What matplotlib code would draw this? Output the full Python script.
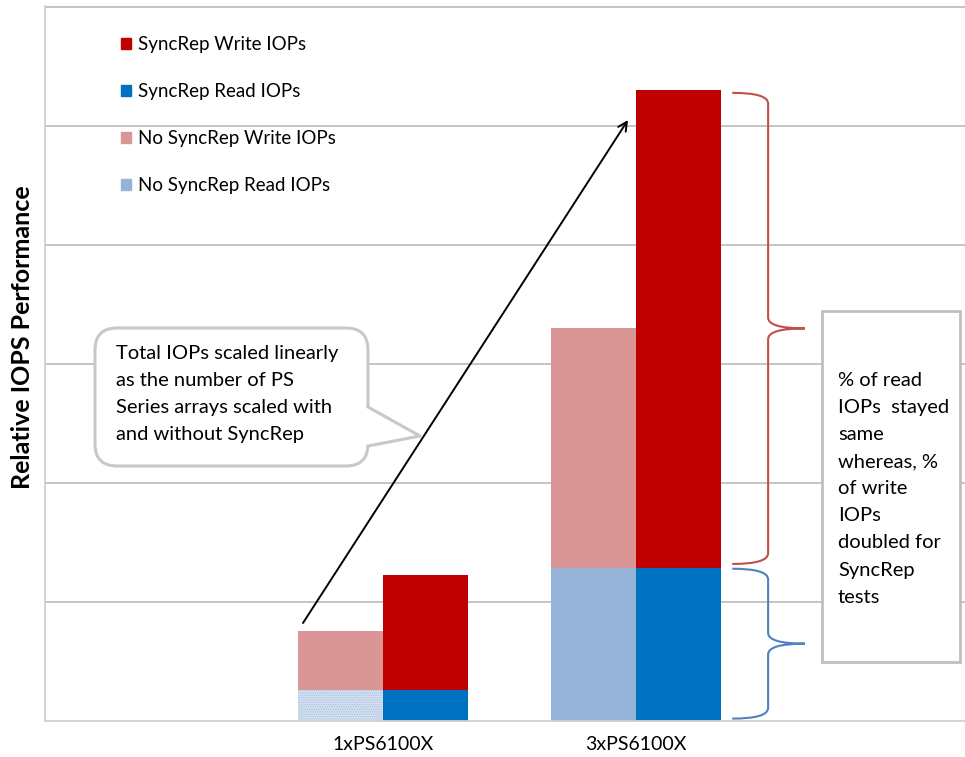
import matplotlib
matplotlib.use("Agg")
import matplotlib.pyplot as plt
from matplotlib.patches import Patch, FancyBboxPatch, Rectangle, Polygon, PathPatch
from matplotlib.path import Path
from matplotlib.transforms import Affine2D, blended_transform_factory

plt.rcParams['font.family'] = ['Lato', 'DejaVu Sans']
plt.rcParams['hatch.linewidth'] = 0.6

W, H = 965, 757

categories = ['1xPS6100X', '3xPS6100X']
nosync_read = [0.26, 1.29]
nosync_write = [0.50, 2.01]
sync_read = [0.26, 1.29]
sync_write = [0.97, 4.01]

c_sync_write = '#C00000'
c_sync_read = '#0070C0'
c_nosync_write = '#D99694'
c_nosync_read = '#95B3D7'

fig = plt.figure(figsize=(W / 100, H / 100), dpi=100)
ax = fig.add_axes([45 / W, 1 - 721 / H, 920 / W, 715 / H])

# image pixel coords (y down) -> display
pix = Affine2D().scale(1, -1).translate(0, H)

x = list(range(len(categories)))
bw = 0.336
x_left = [i - bw / 2 for i in x]
x_right = [i + bw / 2 for i in x]

nr = ax.bar(x_left, nosync_read, bw, color=c_nosync_read, linewidth=0)
ax.bar(x_left, nosync_write, bw, bottom=nosync_read, color=c_nosync_write, linewidth=0)
ax.bar(x_right, sync_read, bw, color=c_sync_read, linewidth=0)
ax.bar(x_right, sync_write, bw, bottom=sync_read, color=c_sync_write, linewidth=0)

# the 1x no-syncrep read block is drawn with a light dotted fill
nr[0].set_facecolor('#d3e0f0')
nr[0].set_hatch('.......')
nr[0].set_edgecolor('#a8c1e0')
nr[0].set_linewidth(0)

ax.set_xlim(-1.336, 2.300)
ax.set_ylim(0, 6.01)
ax.set_yticks([1, 2, 3, 4, 5, 6])
ax.yaxis.grid(True, color='#bfbfbf', linewidth=1.3)
ax.set_axisbelow(True)
ax.tick_params(left=False, labelleft=False, bottom=False)
ax.set_xticks(x)
ax.set_xticklabels(categories, fontsize=14)
ax.tick_params(axis='x', pad=7)
for s in ['top', 'right']:
    ax.spines[s].set_visible(False)
for s in ['left', 'bottom']:
    ax.spines[s].set_color('#d0d0d0')
    ax.spines[s].set_linewidth(1.3)

ax.set_ylabel('Relative IOPS Performance', fontsize=18, fontweight='bold')
ax.yaxis.set_label_coords(-0.012, 0.537)

handles = [Patch(color=c_sync_write), Patch(color=c_sync_read),
           Patch(color=c_nosync_write), Patch(color=c_nosync_read)]
labels = ['SyncRep Write IOPs', 'SyncRep Read IOPs',
          'No SyncRep Write IOPs', 'No SyncRep Read IOPs']
ax.legend(handles, labels, loc='upper left', bbox_to_anchor=(121, 36),
          bbox_transform=pix, frameon=False, fontsize=13.5,
          handlelength=0.55, handleheight=0.55, handletextpad=0.35,
          labelspacing=1.6, borderpad=0, borderaxespad=0)

# arrow from the 1x total to the 3x total
ax.annotate('', xy=(628, 120), xytext=(303, 623), xycoords=pix, textcoords=pix,
            arrowprops=dict(arrowstyle='->', color='black', lw=1.4,
                            mutation_scale=16, shrinkA=0, shrinkB=0),
            zorder=10)

# callout bubble
grey = '#c8c8c8'
bubble = FancyBboxPatch((95, 328), 273, 138, boxstyle='round,pad=0,rounding_size=22',
                        transform=pix, facecolor='white', edgecolor=grey, linewidth=2.2,
                        zorder=5)
fig.add_artist(bubble)
tail = Polygon([(366, 407), (420, 436), (366, 446)], closed=True, transform=pix,
               facecolor='white', edgecolor='none', zorder=6)
fig.add_artist(tail)
fig.add_artist(plt.Line2D([368, 420, 368], [407, 436, 446], transform=pix,
                          color=grey, linewidth=2.2, zorder=7))
fig.text(116, 345, 'Total IOPs scaled linearly\nas the number of PS\nSeries arrays scaled with\nand without SyncRep',
         transform=pix, fontsize=14.5, va='top', ha='left', linespacing=1.72, zorder=8)

# braces
bt = blended_transform_factory(ax.transAxes, ax.transData)


def brace(y0, y1, color):
    xa, xv, xt = 0.747, 0.786, 0.826
    ym = (y0 + y1) / 2
    r = 0.09
    verts = [(xa, y1), (xv, y1), (xv, y1 - r),
             (xv, ym + r), (xv, ym), (xt, ym),
             (xv, ym), (xv, ym - r),
             (xv, y0 + r), (xv, y0), (xa, y0)]
    codes = [Path.MOVETO, Path.CURVE3, Path.CURVE3,
             Path.LINETO, Path.CURVE3, Path.CURVE3,
             Path.CURVE3, Path.CURVE3,
             Path.LINETO, Path.CURVE3, Path.CURVE3]
    ax.add_patch(PathPatch(Path(verts, codes), transform=bt, facecolor='none',
                           edgecolor=color, linewidth=1.5, clip_on=False))


tot3_sync = sync_read[1] + sync_write[1]
brace(sync_read[1] + 0.03, tot3_sync - 0.02, '#C0504D')
brace(0.02, sync_read[1] - 0.01, '#4F81BD')

# note box
fig.add_artist(Rectangle((822, 311), 138, 351, transform=pix, facecolor='white',
                         edgecolor='#bfbfbf', linewidth=2, zorder=5))
fig.text(838, 372, '% of read\nIOPs  stayed\nsame\nwhereas, %\nof write\nIOPs\ndoubled for\nSyncRep\ntests',
         transform=pix, fontsize=14.5, va='top', ha='left', linespacing=1.72, zorder=8)

fig.savefig('out.png', dpi=100, facecolor='white')
